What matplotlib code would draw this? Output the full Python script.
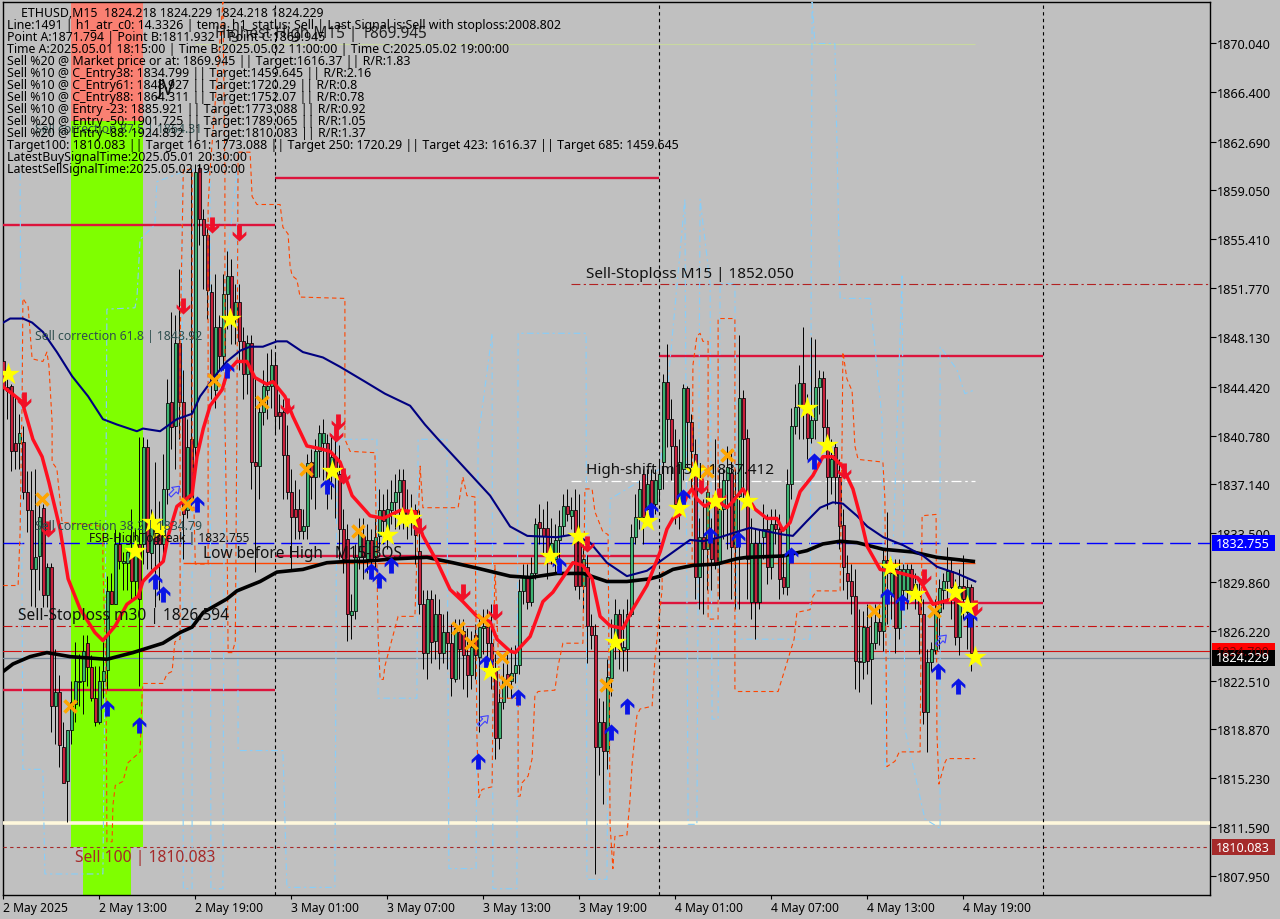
import numpy as np
import matplotlib
matplotlib.use('Agg')
import matplotlib.pyplot as plt
from matplotlib.path import Path
from matplotlib.patches import Rectangle

plt.rcParams['font.family'] = ['Noto Sans', 'DejaVu Sans']

# candles, one value per 15 minute bar
opens = [1846.3,1844.4,1844.5,1840.2,1840.2,1840.3,1836.6,1835.2,1830.8,1831.8,
 1835.4,1828.9,1831.0,1820.6,1821.7,1817.6,1815.0,1818.8,1820.8,1822.4,
 1822.5,1825.3,1823.5,1821.2,1819.4,1822.5,1823.3,1829.2,1828.2,1832.7,
 1831.3,1831.3,1831.7,1829.9,1832.7,1832.7,1839.9,1832.0,1834.3,1833.8,
 1832.7,1836.8,1843.3,1841.5,1847.7,1843.3,1835.2,1840.5,1839.9,1860.7,
 1856.9,1855.7,1851.5,1844.2,1848.9,1846.7,1851.3,1852.7,1849.5,1850.7,
 1847.8,1845.4,1847.7,1838.8,1838.5,1842.5,1844.2,1844.5,1846.0,1842.5,
 1842.5,1839.3,1836.6,1835.3,1835.3,1833.7,1834.0,1838.8,1837.7,1839.6,
 1840.2,1840.2,1838.3,1839.2,1837.9,1833.8,1833.1,1827.4,1827.7,1831.7,
 1833.3,1831.6,1833.0,1831.8,1833.3,1835.2,1833.3,1835.2,1835.8,1836.6,
 1837.5,1835.2,1835.2,1835.2,1832.2,1828.2,1824.6,1828.6,1825.5,1827.5,
 1824.6,1826.1,1825.3,1822.6,1826.1,1826.2,1824.4,1822.9,1825.9,1824.3,
 1826.4,1826.5,1825.3,1823.2,1818.2,1820.9,1823.0,1822.5,1823.1,1823.7,
 1829.2,1830.3,1828.4,1830.5,1834.3,1833.9,1833.9,1831.7,1831.6,1833.0,
 1834.0,1835.5,1834.8,1835.2,1833.1,1829.6,1831.0,1826.6,1825.9,1817.6,
 1819.4,1817.3,1822.7,1825.1,1827.5,1824.8,1824.9,1827.5,1833.2,1834.7,
 1837.9,1835.3,1837.5,1835.7,1836.8,1838.8,1844.8,1842.0,1840.0,1835.7,
 1838.3,1844.3,1841.8,1839.4,1830.2,1833.2,1832.3,1833.1,1836.2,1831.3,
 1835.3,1837.5,1838.0,1832.5,1836.3,1843.6,1840.6,1828.4,1832.8,1828.4,
 1833.2,1833.8,1831.0,1834.2,1833.8,1830.2,1829.5,1837.2,1841.5,1842.9,
 1844.7,1842.8,1840.6,1841.9,1844.4,1845.1,1841.4,1837.7,1839.9,1837.7,
 1834.1,1830.5,1829.9,1828.8,1824.0,1823.9,1826.5,1824.1,1825.3,1826.9,
 1826.2,1831.5,1829.0,1830.8,1826.4,1829.3,1829.3,1830.8,1829.2,1828.8,
 1827.5,1820.2,1823.9,1824.8,1827.6,1829.3,1829.9,1830.7,1829.5,1825.8,
 1829.6,1827.6,1829.5,1824.218]
closes = [1844.4,1844.1,1839.6,1839.6,1841.0,1836.6,1835.2,1830.8,1831.7,1834.7,
 1828.9,1831.0,1820.6,1821.7,1817.7,1814.9,1818.8,1820.9,1822.5,1822.5,
 1824.7,1823.5,1821.2,1819.4,1822.5,1823.2,1829.2,1828.2,1832.7,1831.4,
 1831.4,1832.1,1829.9,1832.7,1828.6,1839.9,1832.1,1834.3,1832.7,1832.7,
 1836.8,1843.2,1841.4,1847.7,1843.3,1834.9,1839.9,1836.05,1860.4,1856.9,
 1855.7,1851.6,1844.8,1848.9,1846.7,1851.3,1852.7,1849.5,1850.7,1847.8,
 1845.4,1847.7,1838.8,1838.5,1842.5,1844.5,1844.5,1846.0,1842.2,1842.2,
 1839.3,1836.6,1834.7,1834.7,1833.7,1834.0,1838.7,1837.7,1839.6,1841.0,
 1841.0,1836.8,1839.2,1837.9,1833.8,1831.6,1827.5,1827.7,1831.7,1833.6,
 1831.7,1833.0,1831.6,1833.2,1835.2,1834.4,1835.3,1835.8,1836.6,1837.5,
 1834.9,1834.6,1834.7,1833.4,1828.2,1824.6,1828.6,1825.4,1827.5,1824.6,
 1826.1,1825.3,1822.7,1826.4,1824.9,1824.4,1822.9,1825.0,1824.4,1826.5,
 1826.6,1825.3,1823.2,1818.2,1820.9,1822.6,1822.5,1823.1,1823.7,1829.2,
 1830.3,1828.4,1830.5,1834.2,1833.9,1833.3,1831.7,1832.8,1833.0,1834.0,
 1835.5,1834.9,1835.2,1829.6,1829.6,1831.6,1826.6,1825.9,1817.6,1819.4,
 1817.3,1822.8,1825.1,1827.5,1824.9,1825.0,1827.5,1833.2,1834.7,1836.8,
 1834.7,1837.2,1835.7,1837.5,1837.9,1844.8,1842.0,1840.0,1835.7,1838.8,
 1844.3,1841.8,1839.6,1830.2,1833.2,1832.3,1836.6,1831.6,1831.3,1835.3,
 1837.5,1838.4,1832.5,1836.3,1843.6,1840.5,1831.6,1832.8,1828.4,1832.8,
 1833.8,1831.0,1834.2,1833.8,1830.1,1829.5,1837.2,1841.5,1842.9,1844.7,
 1842.8,1840.6,1841.9,1844.4,1845.1,1841.4,1837.7,1839.0,1837.7,1834.0,
 1831.0,1829.9,1828.8,1824.0,1823.9,1826.5,1824.0,1825.3,1826.9,1826.2,
 1831.5,1830.5,1830.5,1826.4,1830.8,1830.8,1830.8,1829.3,1829.7,1827.5,
 1820.2,1823.9,1824.9,1827.85,1829.4,1829.9,1830.7,1829.5,1825.8,1829.6,
 1828.6,1829.5,1824.6,1824.229]
highs = [1850.2,1845.0,1844.6,1843.7,1842.4,1841.5,1838.1,1838.1,1838.3,1835.6,
 1835.7,1831.3,1831.3,1824.9,1822.9,1819.4,1818.8,1822.5,1825.4,1824.5,
 1825.9,1825.9,1824.4,1823.6,1823.6,1825.4,1830.3,1830.5,1833.8,1833.6,
 1832.1,1832.2,1835.3,1833.8,1840.7,1840.7,1840.5,1835.3,1838.8,1835.9,
 1839.4,1845.0,1850.0,1849.8,1853.2,1845.7,1842.0,1860.7,1861.0,1861.0,
 1857.7,1856.5,1852.1,1852.8,1849.8,1852.8,1854.5,1853.9,1852.1,1852.1,
 1848.9,1848.3,1848.3,1845.2,1843.5,1845.7,1846.9,1847.2,1846.9,1843.9,
 1843.5,1841.6,1838.3,1837.5,1836.8,1835.3,1839.4,1839.8,1840.5,1841.6,
 1842.0,1840.9,1840.9,1841.3,1840.1,1835.3,1834.2,1829.0,1832.7,1834.6,
 1834.6,1834.2,1833.8,1834.6,1836.8,1836.4,1836.8,1837.5,1837.9,1838.3,
 1838.3,1836.8,1836.4,1835.7,1835.2,1829.3,1829.3,1829.3,1829.0,1828.6,
 1827.5,1827.7,1826.7,1827.1,1827.1,1827.1,1826.4,1826.2,1826.7,1827.1,
 1827.85,1827.85,1828.2,1824.5,1821.9,1823.8,1824.5,1825.0,1825.2,1830.1,
 1831.2,1831.2,1831.7,1834.6,1835.7,1835.3,1835.9,1834.6,1834.2,1835.2,
 1836.4,1836.8,1836.2,1836.8,1836.4,1833.1,1831.9,1827.5,1826.7,1821.2,
 1821.0,1824.1,1827.1,1828.6,1827.85,1827.85,1828.6,1834.2,1836.4,1837.5,
 1838.3,1838.3,1838.3,1838.3,1839.0,1845.4,1847.6,1843.5,1841.3,1840.5,
 1844.6,1844.5,1842.4,1840.5,1834.6,1836.05,1837.5,1834.6,1840.5,1838.3,
 1838.3,1840.0,1839.8,1838.3,1848.3,1844.2,1841.3,1834.6,1833.8,1833.8,
 1835.7,1834.9,1835.3,1835.3,1834.9,1831.9,1838.3,1842.8,1844.6,1846.0,
 1848.9,1843.9,1848.1,1848.0,1845.7,1845.6,1843.5,1840.5,1840.2,1839.0,
 1835.3,1831.9,1831.2,1830.8,1827.85,1827.7,1828.2,1827.5,1828.2,1828.2,
 1832.3,1835.1,1831.6,1831.6,1831.6,1831.2,1831.2,1831.2,1830.5,1830.1,
 1828.6,1824.9,1825.4,1828.6,1830.1,1830.5,1832.5,1831.6,1830.1,1830.8,
 1831.9,1830.1,1829.7,1824.229]
lows = [1842.0,1842.0,1838.1,1838.3,1838.3,1836.05,1833.6,1828.1,1828.0,1829.3,
 1828.0,1828.0,1818.7,1817.8,1816.1,1814.9,1812.0,1817.8,1819.4,1820.6,
 1820.0,1822.1,1821.0,1819.1,1819.3,1821.2,1821.9,1828.2,1828.2,1830.8,
 1829.3,1829.3,1828.6,1828.8,1822.1,1831.2,1830.8,1830.8,1828.0,1828.5,
 1831.6,1835.7,1839.8,1838.3,1840.5,1831.6,1834.6,1835.3,1838.3,1855.0,
 1851.7,1849.5,1843.5,1842.8,1845.7,1845.7,1848.7,1847.6,1847.6,1845.7,
 1843.5,1843.9,1836.8,1830.6,1836.05,1841.6,1842.0,1842.8,1840.9,1841.3,
 1836.05,1836.05,1830.8,1833.1,1833.1,1833.1,1833.1,1836.05,1835.3,1837.7,
 1837.5,1835.3,1836.05,1834.6,1831.6,1830.5,1825.5,1825.6,1827.1,1830.8,
 1830.1,1830.5,1830.1,1830.8,1832.2,1832.7,1832.3,1834.2,1833.8,1833.8,
 1833.8,1833.1,1833.4,1831.2,1827.5,1823.4,1822.6,1823.8,1824.1,1823.4,
 1823.8,1823.4,1821.4,1822.4,1822.6,1821.9,1821.3,1821.9,1822.6,1818.7,
 1824.5,1824.1,1821.9,1816.7,1817.4,1820.4,1821.2,1821.2,1822.3,1823.0,
 1828.2,1827.85,1828.1,1830.1,1832.7,1832.0,1830.1,1831.2,1830.5,1831.2,
 1833.4,1834.4,1833.8,1829.3,1828.6,1827.85,1823.8,1824.9,1808.1,1815.5,
 1813.3,1815.9,1821.4,1824.1,1823.4,1823.2,1823.2,1827.3,1832.7,1833.8,
 1832.7,1834.6,1834.6,1834.9,1836.05,1836.8,1839.9,1837.5,1834.2,1833.8,
 1837.5,1838.3,1836.8,1828.6,1827.85,1827.5,1829.3,1829.3,1830.8,1828.6,
 1833.1,1832.3,1828.6,1827.85,1827.85,1835.7,1828.6,1827.1,1825.6,1827.85,
 1831.6,1829.7,1830.1,1832.7,1828.6,1829.0,1828.9,1836.05,1840.9,1840.5,
 1840.5,1839.0,1840.2,1840.5,1842.4,1840.2,1835.3,1836.4,1835.7,1832.3,
 1829.3,1828.6,1827.5,1821.9,1821.7,1822.6,1823.0,1820.8,1824.9,1825.2,
 1824.7,1826.7,1827.1,1824.6,1825.6,1827.85,1827.85,1828.6,1827.85,1824.5,
 1819.3,1817.2,1823.2,1824.5,1824.9,1827.85,1828.6,1827.1,1825.2,1824.4,
 1827.1,1824.9,1823.2,1824.218]

# thick red line
red_x = [0,2.2,4.7,7.4,9.7,11.4,14.2,16.2,19.2,22.9,24.9,28,30.9,33.7,34.9,37.4,40,41.2,43.4,47.2,
 48.4,50,51.7,54.7,56,58.4,60.9,62.9,65.9,67.4,70.4,72.4,75.9,79.2,81.7,84.2,87.2,91.7,95,99.2,
 102.9,104.9,108.4,111.7,114.9,118.4,121.7,123.4,126.7,128,131.7,134.9,137.4,142.4,144.9,147.2,149.2,151.7,154.9,157.4,
 160.9,164.2,165.9,167.4,169.2,170.9,172.2,173.4,175.4,177.9,180.9,182.2,184.9,187.9,190.9,193.4,194.9,196.7,199.2,202.4,
 204.9,207.4,209.7,212.4,214.2,216,219.2,223.4,228.4,229.9,232.4,237.4,243]
red_y = [1844.4,1843.9,1843.3,1840.5,1839.2,1837.3,1833.8,1830.1,1827.85,1826.1,1825.5,1826.6,1828.2,1828.8,1829.9,1830.7,1831.4,1833.3,1835.5,1836.4,
 1839.2,1841.3,1843.0,1844.2,1845.5,1846.3,1846.3,1845.1,1844.6,1844.8,1843.7,1842.2,1840.0,1839.8,1839.6,1838.8,1836.3,1834.8,1834.6,1835.2,
 1835.1,1833.3,1831.4,1829.3,1828.4,1827.3,1826.9,1825.6,1824.7,1824.6,1825.8,1828.4,1829.1,1831.3,1831.1,1830.1,1827.3,1826.6,1826.4,1827.85,
 1829.6,1832.1,1833.8,1834.6,1834.9,1836.3,1836.8,1836.05,1835.5,1836.05,1835.4,1835.8,1836.8,1835.3,1834.6,1834.6,1833.7,1834.3,1836.6,1837.8,
 1839.2,1839.2,1838.5,1836.8,1834.8,1832.5,1830.8,1830.6,1830.2,1829.6,1828.2,1828.6,1827.9]

# navy line
navy_x = [0,1.7,4.9,7.2,9.9,13.4,17.2,21.2,24.9,28.4,33.4,34.9,39.2,43.4,47.2,49.2,53.4,55.9,59.2,61.7,
 64.9,68.4,70.9,74.9,79.9,84.2,90.4,95.4,101.7,105.4,108.7,114.9,121.7,126.7,131,138.4,142.4,146.7,150.9,155.9,
 160.9,164.2,168.4,171.7,174.9,179.2,183.4,186.7,189.9,194.9,197.4,200.9,204.2,207.4,209.9,213.4,216,220,225,230,233.4,238.4,243]
navy_y = [1849.2,1849.5,1849.5,1849.2,1848.5,1847.0,1845.2,1843.7,1842.0,1841.6,1841.1,1841.3,1841.1,1842.0,1842.4,1843.7,1845.4,1846.3,1847.1,1847.4,
 1847.4,1847.8,1847.8,1847.0,1846.6,1845.9,1844.8,1843.9,1843.0,1841.6,1840.5,1838.5,1836.3,1834.0,1833.3,1833.2,1833.4,1832.8,1831.3,1830.3,
 1830.7,1831.4,1832.3,1833.0,1832.9,1833.2,1833.6,1833.9,1833.7,1833.4,1833.3,1834.4,1835.4,1835.8,1835.7,1834.8,1834.0,1833.2,1832.6,1831.8,1831.0,1830.5,1829.9]

# thick black line
black_x = [0,2.4,6.7,10.9,16.7,25.9,32.4,39.9,44.2,47.2,50,55.9,58.4,64.2,68.4,74.9,80.9,86,89.9,98.4,
 105.9,112.4,118.4,126.7,131.7,138.4,145,150.9,155.9,161.7,164.2,167.4,172.4,178.4,183.4,185.9,194.9,200.9,204.9,209.2,213.4,220,227.4,233.4,242.5]
black_y = [1823.2,1823.75,1824.3,1824.6,1824.3,1824.1,1824.6,1825.3,1826.1,1826.5,1827.6,1828.6,1829.2,1829.9,1830.6,1830.8,1831.3,1831.4,1831.4,1831.6,
 1831.7,1831.3,1830.9,1830.3,1830.2,1830.5,1830.5,1829.9,1829.9,1830.1,1830.3,1830.8,1831.1,1831.2,1831.6,1831.7,1831.8,1832.2,1832.7,1832.9,1832.8,1832.3,1832.1,1831.7,1831.4]

# thin orange dashed stairs
orange_x = [0,3.7,4.2,4.7,4.9,6.2,7.2,9.9,10.9,11.4,12.2,12.2,13.4,14.2,14.7,19.2,24.9,24.9,25.7,25.9,
 27.2,27.4,28,29.9,31.2,34.2,34.7,34.9,39.9,40.9,42.2,42.9,44.2,44.2,44.2,44.7,45,47.2,47.2,48,
 51.2,51.2,51.2,51.7,54.9,55.4,55.4,56,56.2,57.2,58,58.4,58.7,61.7,62.2,63.4,69.2,69.9,71.2,71.7,
 72.2,73.4,74.2,85.4,85.4,86.7,92.9,93.2,93.7,94.2,95,95.4,97.9,98.7,102.9,104.2,104.9,113.7,114.9,115.9,
 117.9,118.4,118.9,119.7,122.2,122.4,122.9,124.2,128.7,128.7,129.2,129.7,131.2,132.2,132.9,133.7,137.9,138.7,139.9,144.9,
 145.4,147.2,147.9,149.9,151.2,151.7,152.4,152.9,155.9,156.7,157.2,158.4,159.2,162.2,162.9,164.7,164.7,172.2,172.4,173.4,
 174.2,174.9,176.2,176.2,178.7,178.7,182.9,182.9,183.7,193.7,197.7,198.4,201.7,202.4,203.4,209.2,209.7,209.9,210.9,212.2,
 212.9,213.7,219.9,220.4,220.9,222.9,224,229.2,229.7,233.2,233.4,233.9,235.4,235.9,243]
orange_y = [1829.6,1829.6,1833.6,1843.5,1851.0,1850.4,1846.5,1846.3,1847.0,1846.0,1841.8,1838.8,1838.3,1835.8,1834.3,1834.2,1834.0,1831.1,1822.9,1810.5,
 1810.5,1813.2,1814.7,1815.0,1816.4,1817.2,1821.4,1822.3,1822.3,1823.0,1823.2,1825.4,1825.6,1831.1,1847.7,1855.4,1860.6,1860.6,1841.0,1831.2,
 1831.2,1836.4,1857.9,1860.6,1873.1,1860.4,1842.0,1831.6,1824.6,1824.6,1825.4,1842.0,1861.9,1861.9,1858.6,1858.0,1858.0,1856.3,1855.8,1853.4,
 1852.7,1852.4,1851.1,1851.0,1840.5,1839.6,1839.5,1834.6,1825.8,1822.6,1822.6,1823.6,1826.4,1827.3,1827.3,1838.5,1835.4,1835.4,1837.7,1836.3,
 1836.2,1818.4,1813.8,1814.4,1814.6,1820.6,1831.1,1821.2,1821.2,1813.9,1813.9,1814.9,1815.4,1816.7,1821.4,1821.7,1821.8,1823.6,1825.3,1825.3,
 1836.8,1836.8,1835.1,1833.6,1833.4,1811.7,1808.5,1810.9,1811.0,1813.7,1816.3,1819.9,1820.4,1820.6,1824.1,1829.3,1830.6,1831.1,1846.0,1848.2,
 1848.4,1847.8,1847.8,1827.1,1827.1,1849.5,1849.5,1821.9,1821.7,1821.7,1825.6,1827.6,1827.8,1828.8,1829.2,1829.2,1840.7,1847.0,1845.0,1844.1,
 1840.0,1839.0,1838.8,1836.05,1816.1,1816.5,1817.2,1817.2,1834.8,1834.9,1818.7,1814.8,1816.4,1816.7,1816.7]

# thin light blue dash-dot line
sky_x = [4.2,4.9,9.9,10.4,24.9,25.4,25.9,32.9,33.4,34.2,37.9,38.4,44.7,45,47.2,47.2,51.7,51.9,54.9,55.4,
 58.4,58.7,69.9,70.9,82.9,83.4,93.4,93.7,103.4,103.7,110.9,111.4,118.2,118.7,122.2,122.4,128.4,128.7,145.7,145.9,
 150.9,151.7,164.2,170.4,171.2,173.4,174.2,176.7,177.2,178.7,179.2,182.9,183.4,201.7,202.2,202.9,207.9,209.2,216.7,219.7,
 220.4,220.7,224.7,225.4,230.4,234.2,234.2,238.4,240.4,243]
sky_y = [1860.3,1815.9,1815.9,1808.1,1808.1,1822.4,1850.2,1850.3,1851.0,1855.4,1856.5,1859.7,1860.4,1807.0,1807.0,1860.6,1860.4,1807.0,1807.0,1852.2,
 1860.6,1817.3,1817.3,1807.1,1807.1,1840.5,1840.5,1821.2,1821.2,1840.5,1840.5,1808.5,1808.5,1840.5,1848.4,1807.0,1807.0,1848.4,1848.4,1807.7,
 1807.7,1836.05,1838.3,1858.4,1811.8,1811.8,1858.4,1852.1,1819.65,1819.65,1852.1,1852.1,1825.6,1825.6,1873.1,1870.0,1870.0,1851.0,1851.0,1842.0,
 1815.9,1816.7,1852.8,1818.9,1812.2,1811.5,1847.4,1845.7,1843.9,1844.2]

# signal markers
star_x = [1.2,32.9,37.2,38.9,56.7,82.2,95.9,99.7,101.9,121.7,136.7,143.7,152.9,160.9,168.9,172.9,177.9,185.9,200.9,205.9,221.7,227.9,237.9,240.9,242.9]
star_y = [1845.4,1832.2,1834.3,1833.8,1849.5,1838.1,1833.4,1834.6,1834.6,1823.2,1831.8,1833.3,1825.4,1834.4,1835.4,1838.1,1835.9,1835.9,1842.8,1840.1,1831.0,1829.0,1829.1,1828.1,1824.3]
cross_x = [9.7,16.7,46,52.7,64.7,75.7,88.7,113.7,116.9,119.9,124.7,125.7,150.7,175.9,180.9,217.7,232.7]
cross_y = [1836.05,1820.6,1835.7,1844.9,1843.3,1838.3,1833.7,1826.4,1825.3,1827.0,1824.3,1822.4,1822.2,1838.1,1839.3,1827.7,1827.7]
up_x = [25.9,33.9,37.9,39.9,48.4,55.9,80.9,91.9,93.9,96.9,118.7,120.7,128.7,138.9,151.9,155.9,161.9,169.9,176.7,183.7,196.9,202.7,220.9,224.7,233.7,238.7,241.7]
up_y = [1820.5,1819.2,1829.9,1829.0,1835.7,1845.7,1837.0,1830.7,1830.0,1831.1,1816.5,1823.8,1821.3,1831.1,1818.7,1820.6,1835.2,1836.2,1833.4,1833.1,1831.9,1838.9,1828.8,1828.4,1823.2,1822.1,1827.1]
down_x = [5.2,11.2,44.9,52.2,58.9,70.9,83.2,83.7,84.9,103.9,114.9,122.9,145.9,174.4,178.9,210.2,230.2,242.9]
down_y = [1843.4,1833.8,1850.4,1856.5,1855.9,1843.0,1840.9,1841.8,1837.8,1834.0,1829.1,1827.6,1832.7,1837.0,1836.3,1838.1,1830.2,1827.9]
hollow_x = [42.7,119.9,234.4]
hollow_y = [1836.6,1819.5,1825.5]

# crimson zone lines: start bar, end bar, price
zone_start = [-0.2,68,164,-0.2,68,164]
zone_end = [68,164,260,68,164,260]
zone_price = [1856.5,1860.0,1846.7,1821.8,1831.8,1828.3]

y_ticks = [1870.040,1866.400,1862.690,1859.050,1855.410,1851.770,1848.130,1844.420,1840.780,
           1837.140,1833.500,1829.860,1826.220,1822.510,1818.870,1815.230,1811.590,1807.950]
x_ticks = [0,24,48,72,96,120,144,168,192,216,240]
x_labels = ['2 May 2025','2 May 13:00','2 May 19:00','3 May 01:00','3 May 07:00','3 May 13:00',
            '3 May 19:00','4 May 01:00','4 May 07:00','4 May 13:00','4 May 19:00']
session_lines = [68,164,260]

header = ['Line:1491 | h1_atr_c0: 14.3326 | tema_h1_status: Sell | Last Signal is:Sell with stoploss:2008.802',
 'Point A:1871.794 | Point B:1811.932 | Point C:1869.945',
 'Time A:2025.05.01 18:15:00 | Time B:2025.05.02 11:00:00 | Time C:2025.05.02 19:00:00',
 'Sell %20 @ Market price or at: 1869.945 || Target:1616.37 || R/R:1.83',
 'Sell %10 @ C_Entry38: 1834.799 || Target:1459.645 || R/R:2.16',
 'Sell %10 @ C_Entry61: 1848.927 || Target:1720.29 || R/R:0.8',
 'Sell %10 @ C_Entry88: 1864.311 || Target:1752.07 || R/R:0.78',
 'Sell %10 @ Entry -23: 1885.921 || Target:1773.088 || R/R:0.92',
 'Sell %20 @ Entry -50: 1901.725 || Target:1789.065 || R/R:1.05',
 'Sell %20 @ Entry -88: 1924.832 || Target:1810.083 || R/R:1.37',
 'Target100: 1810.083 || Target 161: 1773.088 || Target 250: 1720.29 || Target 423: 1616.37 || Target 685: 1459.645',
 'LatestBuySignalTime:2025.05.01 20:30:00',
 'LatestSellSignalTime:2025.05.02 19:00:00']

W, H = 1280, 920
fig = plt.figure(figsize=(W / 100, H / 100), dpi=100, facecolor='#C0C0C0')
ax = fig.add_axes([2.5 / W, 1 - 895.5 / H, 1207 / W, 893 / H], facecolor='#C0C0C0')
ax.set_xlim(-0.2, 301.55)
ax.set_ylim(1806.57, 1873.13)

def put(x, y, s, size, color='black', **kw):
    # text placed in picture pixels, x left edge and y middle
    fig.text(x / W, 1 - (y + 1.5) / H, s, fontsize=size, color=color, ha='left', va='center', zorder=20, **kw)

# coloured sell zone
ax.add_patch(Rectangle((16.9, 1864.2), 18, 8.93, color='#FA8072', lw=0, zorder=1))
ax.add_patch(Rectangle((16.9, 1810.083), 18, 54.117, color='#7FFF00', lw=0, zorder=1))
ax.add_patch(Rectangle((20.0, 1806.57), 12, 3.513, color='#7FFF00', lw=0, zorder=1))

# horizontal levels
ax.hlines(zone_price, zone_start, zone_end, color='#DC143C', lw=1.7, zorder=3)
ax.hlines(1831.3, 44.8, 243, color='#FF4500', lw=1.0, zorder=3)
ax.axhline(1811.932, color='#FFF8DC', lw=2.6, zorder=3)
ax.axhline(1832.755, color='#0000FF', lw=1.0, dashes=(15, 5), zorder=3)
ax.axhline(1826.594, color='#C81010', lw=0.8, dashes=(8, 3, 2, 3), zorder=3)
ax.axhline(1824.7, color='#D01010', lw=0.8, zorder=3)
ax.axhline(1824.229, color='#778899', lw=0.9, zorder=3)
ax.axhline(1810.083, color='#A52A2A', lw=0.8, dashes=(3, 3), zorder=3)
ax.hlines(1852.05, 142, 301.55, color='#B22222', lw=0.8, linestyles=[(0, (8, 3, 2, 3))], zorder=3)
ax.hlines(1837.412, 142, 243, color='white', lw=0.9, linestyles=[(0, (8, 3, 2, 3))], zorder=3)
ax.hlines(1869.945, 48, 243, color='#C8D8A0', lw=0.8, zorder=3)
for v in session_lines:
    ax.axvline(v, color='black', lw=0.8, dashes=(3, 3), zorder=3)

# thin indicator lines
ax.plot(sky_x, sky_y, color='#87CEFA', lw=0.8, dashes=(6, 3, 2, 3), zorder=4)

# candles
bars = np.arange(len(opens))
o, c = np.array(opens), np.array(closes)
up = c >= o
ax.vlines(bars, lows, highs, color='black', lw=0.7, zorder=5)
ax.bar(bars, np.abs(c - o), bottom=np.minimum(o, c), width=0.8,
       color=np.where(up, '#3CB371', '#C8203C'), edgecolor='black', linewidth=0.55, zorder=6)

ax.plot(orange_x, orange_y, color='#FF4500', lw=0.8, dashes=(4, 3), zorder=7)

# moving averages
ax.plot(black_x, black_y, color='black', lw=2.6, zorder=8)
ax.plot(navy_x, navy_y, color='#000080', lw=1.5, zorder=8)
ax.plot(red_x, red_y, color='#FF0F1F', lw=2.5, zorder=9)

# arrow shapes for the signals
up_arrow = Path([(0, -1), (0.3, -1), (0.3, 0.25), (0.85, -0.25), (0.85, 0.2), (0, 1), (-0.85, 0.2), (-0.85, -0.25), (-0.3, 0.25), (-0.3, -1), (0, -1)])
down_arrow = Path([(x, -y) for x, y in up_arrow.vertices])
ne_arrow = Path([(-0.9, -0.5), (-0.5, -0.9), (0.35, -0.05), (0.7, -0.4), (0.9, 0.9), (-0.4, 0.7), (-0.05, 0.35), (-0.9, -0.5)])

ax.scatter(up_x, up_y, marker=up_arrow, s=135, color='#0A14E6', linewidths=0, zorder=10)
ax.scatter(down_x, down_y, marker=down_arrow, s=135, color='#F01028', linewidths=0, zorder=10)
ax.scatter(hollow_x, hollow_y, marker=ne_arrow, s=60, facecolors='none', edgecolors='#4040FF', linewidths=0.8, zorder=10)
ax.scatter(cross_x, cross_y, marker='x', s=75, color='#FFA500', linewidths=2.6, zorder=11)
ax.scatter(star_x, star_y, marker='*', s=290, color='#FFFF00', linewidths=0, zorder=12)

# axes look
for side in ['left', 'right', 'top', 'bottom']:
    ax.spines[side].set_linewidth(1.0)
ax.yaxis.tick_right()
ax.set_yticks(y_ticks)
ax.set_yticklabels(['%.3f' % v for v in y_ticks], fontsize=9.1)
ax.set_xticks(x_ticks)
ax.set_xticklabels(x_labels, fontsize=8.7, ha='left')
ax.tick_params(axis='y', length=4, width=0.8, pad=1.2)
ax.tick_params(axis='x', length=3, width=0.8, pad=1.5)

# price tags on the right scale
tags = [(1824.700, '#FF0000', '#7A0000', '1824.700'), (1824.229, 'black', 'white', '1824.229'),
        (1832.755, '#0000FF', 'white', '1832.755'), (1810.083, '#A52A2A', 'white', '1810.083')]
trans = ax.get_yaxis_transform()
for price, bg, fg, label in tags:
    ax.add_patch(Rectangle((1.0017, price - 0.6), 0.0522, 1.2, transform=trans, color=bg, lw=0, clip_on=False, zorder=30))
    ax.text(1.0050, price, label, transform=trans, color=fg, fontsize=9.1, va='center', ha='left', clip_on=False, zorder=31)

# chart object labels
put(215, 33, 'Highest High M15 | 1869.945', 11.1, '#222222')
put(157, 87, 'JV', 15, '#111111')
put(35, 128, 'Sell correction 87.5 | 1864.31', 8.8, '#2F4F4F')
put(35, 335, 'Sell correction 61.8 | 1848.92', 8.8, '#2F4F4F')
put(35, 525, 'Sell correction 38.2 | 1834.79', 8.8, '#2F4F4F')
put(89, 537, 'FSB-HighToBreak | 1832.755', 8.55, '#111111')
put(203, 552, 'Low before High   M15-BOS', 11.1, '#111111')
put(586, 273, 'Sell-Stoploss M15 | 1852.050', 11, '#111111')
put(586, 469, 'High-shift m15 | 1837.412', 11, '#111111')
put(18, 615, 'Sell-Stoploss m30 | 1826.594', 11.15, '#111111')
put(75, 857, 'Sell 100 | 1810.083', 11.25, '#A52A2A')

# info block top left
put(21, 12, 'ETHUSD,M15  1824.218 1824.229 1824.218 1824.229', 8.85)
for n, line in enumerate(header):
    put(7, 24 + 12 * n, line, 8.9)

fig.savefig('out.png', dpi=100, facecolor=fig.get_facecolor())
